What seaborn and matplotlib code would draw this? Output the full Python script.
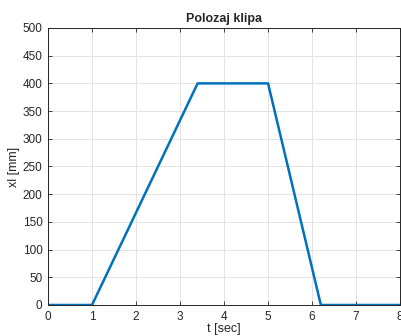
import numpy as np
import pandas as pd
import matplotlib
matplotlib.use("Agg")
import matplotlib.pyplot as plt
import seaborn as sns

# Polozaj klipa - breakpoints of the piston position
t_sec = [0, 1, 3.4, 5, 6.2, 8]
x_mm = [0, 0, 400, 400, 0, 0]

df = pd.DataFrame({"t": t_sec, "x": x_mm})

sns.set_style("whitegrid")
plt.rcParams['font.family'] = ['Liberation Sans', 'DejaVu Sans']

fig = plt.figure(figsize=(4.01, 3.36), dpi=100)
ax = fig.add_axes([0.1197, 0.0923, 0.878, 0.8244])

sns.lineplot(data=df, x="t", y="x", color="#0072BD", linewidth=1.8, ax=ax,
             sort=False, estimator=None)

ax.set_xlim(0, 8)
ax.set_ylim(0, 500)
ax.set_xticks(range(0, 9))
ax.set_yticks(range(0, 501, 50))
ax.grid(True, color="#e3e3e3", linewidth=0.7)
for s in ax.spines.values():
    s.set_color("#262626")
    s.set_linewidth(0.7)
ax.tick_params(direction="in", length=3, width=0.6, labelsize=8.5,
               colors="#262626", top=True, right=True, bottom=True, left=True,
               pad=4)
ax.set_title("Polozaj klipa", fontsize=9, fontweight="bold", pad=4)
ax.set_xlabel("t [sec]", fontsize=9, labelpad=0, color="#262626")
ax.set_ylabel("xl [mm]", fontsize=9, labelpad=2, color="#262626")

fig.savefig("out.png", dpi=100)
